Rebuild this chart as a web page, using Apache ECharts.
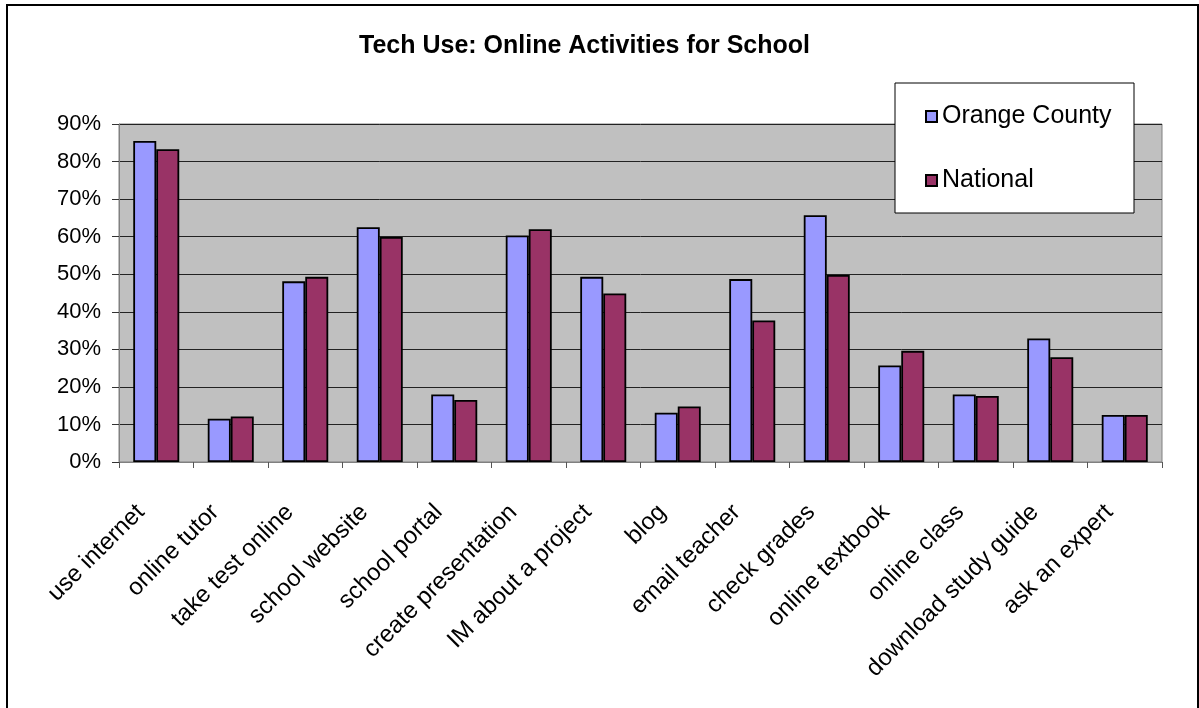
<!DOCTYPE html>
<html>
<head>
<meta charset="utf-8">
<script src="https://cdn.jsdelivr.net/npm/echarts@6/dist/echarts.min.js"></script>
<style>
  html, body { margin: 0; padding: 0; background: #fff; }
  #main { width: 1199px; height: 708px; }
</style>
</head>
<body>
<div id="main"></div>
<script>
// categories along the x axis
const activities = [
  'use internet', 'online tutor', 'take test online', 'school website',
  'school portal', 'create presentation', 'IM about a project', 'blog',
  'email teacher', 'check grades', 'online textbook', 'online class',
  'download study guide', 'ask an expert'
]
// percent of students
const orangeCounty = [85.5, 11.5, 48.1, 62.5, 18.0, 60.3, 49.3, 13.1, 48.7, 65.7, 25.7, 18.0, 32.9, 12.5]
const national = [83.3, 12.1, 49.3, 59.9, 16.5, 62.0, 44.9, 14.8, 37.7, 49.8, 29.6, 17.6, 27.9, 12.5]
const yTicks = [0, 10, 20, 30, 40, 50, 60, 70, 80, 90]

const font = '"Liberation Sans", Arial, sans-serif'
const myChart = echarts.init(document.getElementById('main'))

const option = {
  animation: false,
  backgroundColor: '#fff',
  textStyle: { fontFamily: font, color: '#000' },
  title: {
    text: 'Tech Use: Online Activities for School',
    left: 354,
    top: 29,
    textStyle: { fontFamily: font, fontSize: 25, fontWeight: 'bold', color: '#000' },
  },
  graphic: [
    {
      // outer chart border
      type: 'rect',
      shape: { x: 7, y: 5, width: 1191, height: 712 },
      style: { fill: 'none', stroke: '#000', lineWidth: 2 },
      z: 100,
    },
    {
      // legend box
      type: 'rect',
      shape: { x: 895, y: 83, width: 239, height: 130 },
      style: { fill: '#fff', stroke: '#000', lineWidth: 1 },
      z: 15,
    },
  ],
  legend: {
    orient: 'vertical',
    left: 920,
    top: 99,
    itemWidth: 11,
    itemHeight: 11,
    itemGap: 39,
    icon: 'rect',
    z: 20,
    textStyle: { fontFamily: font, fontSize: 25, color: '#000' },
    data: ['Orange County', 'National'],
  },
  grid: {
    left: 119,
    right: 37,
    top: 124,
    bottom: 246,
    show: true,
    backgroundColor: '#C0C0C0',
    borderColor: '#808080',
    borderWidth: 1,
  },
  xAxis: {
    type: 'category',
    data: activities,
    axisLine: { lineStyle: { color: '#808080', width: 1 } },
    axisTick: { show: true, length: 6, lineStyle: { color: '#555' } },
    axisLabel: {
      rotate: 45,
      interval: 0,
      margin: 31,
      padding: [0, 22, 0, 0],
      fontFamily: font,
      fontSize: 24,
      color: '#000',
    },
  },
  yAxis: {
    type: 'value',
    min: yTicks[0],
    max: yTicks[yTicks.length - 1],
    interval: 10,
    axisLine: { show: true, lineStyle: { color: '#808080' } },
    axisTick: { show: true, length: 7, lineStyle: { color: '#333' } },
    splitLine: { lineStyle: { color: '#222', width: 1 } },
    axisLabel: {
      formatter: '{value}%',
      margin: 18,
      fontFamily: font,
      fontSize: 22,
      color: '#000',
    },
  },
  series: [
    {
      name: 'Orange County',
      type: 'bar',
      barWidth: 23,
      barGap: '0%',
      itemStyle: { color: '#9999FF', borderColor: '#000', borderWidth: 1.8 },
      data: orangeCounty,
    },
    {
      name: 'National',
      type: 'bar',
      barWidth: 23,
      itemStyle: { color: '#993366', borderColor: '#000', borderWidth: 1.8 },
      data: national,
    },
  ],
}
option && myChart.setOption(option)
</script>
</body>
</html>
